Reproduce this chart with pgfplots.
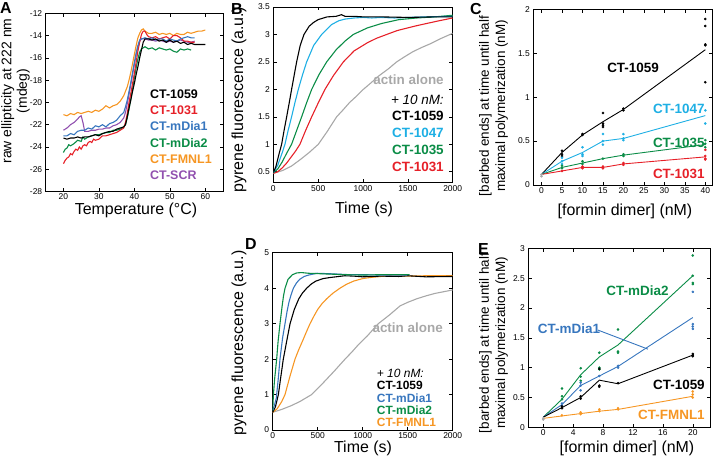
\documentclass[border=0pt]{standalone}
\usepackage{fontspec}
\setmainfont{Liberation Sans}
\usepackage{pgfplots}
\pgfplotsset{compat=1.18}

\definecolor{cred}{RGB}{230,32,40}
\definecolor{cblue}{RGB}{55,118,190}
\definecolor{ccyan}{RGB}{30,175,228}
\definecolor{cgreen}{RGB}{10,140,70}
\definecolor{corange}{RGB}{246,150,35}
\definecolor{cpurple}{RGB}{145,80,175}
\definecolor{cgray}{RGB}{168,168,168}

\pgfplotsset{
  panel/.style={
    scale only axis, anchor=north west,
    axis line style={line width=0.6pt},
    tick style={black, line width=0.5pt},
    major tick length=3.5pt,
    tick label style={font=\fontsize{8.5}{10}\selectfont},
    xticklabel style={yshift=1pt},
    /pgf/number format/assume math mode=true,
    /pgf/number format/1000 sep={},
  },
  curve/.style={line width=1.1pt},
  mean/.style={line width=0.9pt},
  pts/.style={only marks, mark=*, mark size=1.1pt},
}
\newcommand{\lab}{\fontsize{16}{18}\selectfont}
\newcommand{\ylab}{\fontsize{14}{15.5}\selectfont}
\newcommand{\blab}{\fontsize{13.5}{15.5}\selectfont}
\newcommand{\pletter}{\fontsize{16}{18}\selectfont\bfseries}

\begin{document}
\begin{tikzpicture}
\useasboundingbox (0,0) rectangle (713bp,-458bp);

% ---------------- A ----------------
\begin{axis}[panel, at={(45.7bp,-13.3bp)}, width=177.3bp, height=178.2bp,
  xmin=15, xmax=65, ymin=-28, ymax=-12,
  xtick={20,30,40,50,60}, ytick={-28,-26,...,-12}]
\addplot[curve, corange] coordinates {(20,-21.1)(21,-21.2)(22,-21.0)(23,-21.1)(24,-20.9)(25,-21.0)(26,-20.9)(27,-20.8)(28,-20.9)(29,-20.7)(30,-20.8)(31,-20.6)(32,-20.3)(33,-20.5)(34,-20.3)(35,-20.2)(36,-19.9)(37,-19.4)(37.5,-19.0)(38,-18.6)(38.5,-18.0)(39,-17.3)(39.5,-16.5)(40,-15.7)(40.5,-14.9)(41,-14.2)(41.5,-13.8)(42,-13.5)(42.5,-13.4)(43,-13.6)(44,-13.8)(45,-13.8)(46,-13.7)(47,-13.9)(48,-13.8)(49,-13.9)(50,-13.8)(51,-14.0)(52,-13.8)(53,-13.9)(54,-13.9)(55,-13.7)(56,-13.8)(57,-13.7)(58,-13.6)(59,-13.6)(60,-13.5)};
\addplot[curve, cpurple] coordinates {(20,-22.5)(21,-22.3)(22,-22.0)(23,-21.8)(24,-21.5)(24.5,-21.3)(25,-21.2)(25.5,-21.8)(26,-22.6)(27,-22.6)(28,-22.5)(29,-22.5)(30,-22.4)(31,-22.4)(32,-22.3)(33,-22.3)(34,-22.1)(35,-22.0)(36,-21.8)(37,-21.4)(37.5,-20.9)(38,-20.1)(38.5,-19.3)(39,-18.4)(39.5,-17.5)(40,-16.6)(40.5,-15.7)(41,-15.0)(41.5,-14.5)(42,-14.3)(43,-14.3)(44,-14.4)(45,-14.4)(46,-14.5)(47,-14.4)(48,-14.5)(49,-14.6)(50,-14.5)(51,-14.6)(52,-14.5)(53,-14.4)(54,-14.5)(55,-14.6)(56,-14.6)(57,-14.5)};
\addplot[curve, cgreen] coordinates {(20,-24.5)(20.5,-24.2)(21,-24.1)(21.5,-23.8)(22,-23.9)(23,-23.7)(24,-23.4)(25,-23.5)(25.5,-23.1)(26,-23.3)(27,-23.1)(28,-23.0)(29,-22.9)(30,-22.9)(31,-22.8)(32,-22.7)(33,-22.7)(34,-22.5)(35,-22.5)(36,-22.4)(37,-22.2)(37.5,-22.0)(38,-21.4)(38.5,-20.6)(39,-19.7)(39.5,-18.8)(40,-17.8)(40.5,-16.9)(41,-16.1)(41.5,-15.5)(42,-15.2)(43,-15.0)(44,-15.2)(45,-15.1)(46,-15.3)(47,-15.1)(48,-15.2)(49,-15.3)(50,-15.2)(51,-15.4)(52,-15.5)(53,-15.2)(54,-15.3)(55,-15.2)(56,-15.3)};
\addplot[curve, cred] coordinates {(20,-25.5)(20.5,-25.2)(21,-25.0)(21.5,-24.9)(22,-24.6)(22.5,-24.7)(23,-24.4)(23.5,-24.2)(24,-24.3)(24.5,-24.0)(25,-24.2)(25.5,-23.9)(26,-23.8)(26.5,-23.9)(27,-23.6)(27.5,-23.5)(28,-23.6)(28.5,-23.3)(29,-23.4)(30,-23.3)(31,-23.0)(32,-23.0)(33,-22.9)(34,-22.8)(35,-22.7)(36,-22.5)(37,-22.3)(37.5,-21.8)(38,-21.0)(38.5,-20.0)(39,-19.2)(39.5,-18.3)(40,-17.4)(40.5,-16.4)(41,-15.4)(41.5,-14.6)(42,-13.9)(42.5,-13.6)(43,-13.6)(43.5,-13.9)(44,-14.1)(45,-14.2)(46,-14.1)(47,-14.3)(48,-14.2)(49,-14.1)(50,-14.3)(51,-14.0)(52,-14.0)(53,-14.2)(54,-14.5)(55,-14.5)(56,-14.6)(57,-14.6)};
\addplot[curve, cblue] coordinates {(20,-23.0)(21,-23.0)(22,-22.8)(23,-22.9)(24,-22.6)(25,-22.5)(26,-22.5)(27,-22.3)(28,-22.4)(29,-22.1)(30,-22.2)(31,-22.0)(32,-22.2)(33,-21.9)(34,-21.8)(35,-21.6)(36,-21.2)(37,-20.9)(37.5,-20.4)(38,-19.8)(38.5,-19.0)(39,-18.2)(39.5,-17.3)(40,-16.4)(40.5,-15.6)(41,-14.9)(41.5,-14.4)(42,-14.3)(43,-14.2)(44,-14.3)(45,-14.2)(46,-14.4)(47,-14.3)(48,-14.3)(49,-14.5)(50,-14.3)(51,-14.4)(52,-14.5)(53,-14.3)(54,-14.2)(55,-14.1)(56,-14.2)(57,-14.2)};
\addplot[curve, black] coordinates {(20,-23.2)(21,-23.3)(22,-23.2)(23,-23.2)(24,-23.1)(25,-23.2)(26,-23.1)(27,-23.1)(28,-23.0)(29,-22.9)(30,-23.0)(31,-22.8)(32,-22.7)(33,-22.6)(34,-22.6)(35,-22.4)(36,-22.3)(37,-22.2)(37.5,-22.0)(38,-21.3)(38.5,-20.5)(39,-19.8)(39.5,-19.0)(40,-18.3)(40.5,-17.5)(41,-16.8)(41.5,-16.0)(42,-15.3)(42.5,-14.6)(43,-14.3)(44,-14.3)(45,-14.4)(46,-14.3)(47,-14.5)(48,-14.4)(49,-14.6)(50,-14.4)(51,-14.6)(52,-14.5)(53,-14.7)(54,-14.6)(55,-14.8)(56,-14.7)(57,-14.8)(58,-14.8)(59,-14.8)(60,-14.8)};
\begin{scope}[every node/.style={anchor=west, inner sep=0pt, font=\fontsize{12.5}{14}\selectfont\bfseries}]
\node[black]   at (rel axis cs:0.588,0.547) {CT-1059};
\node[cred]    at (rel axis cs:0.588,0.457) {CT-1031};
\node[cblue]   at (rel axis cs:0.588,0.368) {CT-mDia1};
\node[cgreen]  at (rel axis cs:0.588,0.272) {CT-mDia2};
\node[corange] at (rel axis cs:0.588,0.182) {CT-FMNL1};
\node[cpurple] at (rel axis cs:0.588,0.093) {CT-SCR};
\end{scope}
\end{axis}

% ---------------- B ----------------
\begin{axis}[panel, at={(273.3bp,-7bp)}, width=179.4bp, height=175.7bp,
  xmin=0, xmax=2000, ymin=0.3, ymax=3.5,
  xtick={0,500,1000,1500,2000}, ytick={0.5,1,...,3.5}]
\addplot[curve, cgray] coordinates {(0,0.47)(100,0.52)(200,0.6)(300,0.72)(400,0.85)(502,1.0)(600,1.23)(706,1.5)(780,1.63)(850,1.76)(930,1.88)(1004,2.0)(1090,2.12)(1180,2.25)(1280,2.37)(1375,2.5)(1460,2.59)(1550,2.68)(1650,2.76)(1750,2.83)(1860,2.92)(1970,3.0)(2000,3.02)};
\addplot[curve, cred] coordinates {(0,0.47)(50,0.5)(100,0.57)(150,0.66)(200,0.77)(250,0.88)(297,1.0)(360,1.25)(428,1.5)(500,1.75)(576,2.0)(670,2.25)(781,2.5)(900,2.7)(1050,2.85)(1150,2.93)(1264,3.0)(1380,3.07)(1500,3.12)(1600,3.16)(1710,3.2)(1850,3.25)(2000,3.3)};
\addplot[curve, cgreen] coordinates {(0,0.48)(50,0.55)(100,0.68)(150,0.84)(204,1.0)(260,1.25)(316,1.5)(370,1.75)(428,2.0)(510,2.27)(595,2.5)(700,2.72)(800,2.88)(892,3.0)(1050,3.12)(1208,3.2)(1400,3.27)(1600,3.3)(1800,3.32)(2000,3.35)};
\addplot[curve, ccyan] coordinates {(0,0.48)(50,0.62)(100,0.85)(130,1.0)(165,1.25)(204,1.5)(240,1.75)(279,2.0)(325,2.26)(372,2.5)(450,2.8)(539,3.0)(650,3.18)(730,3.25)(800,3.28)(900,3.3)(1000,3.31)(1100,3.3)(1200,3.31)(1350,3.3)(1500,3.31)(1700,3.32)(2000,3.33)};
\addplot[curve, black] coordinates {(0,0.48)(30,0.6)(60,0.8)(93,1.0)(120,1.25)(149,1.5)(177,1.75)(204,2.0)(232,2.25)(260,2.5)(300,2.8)(342,3.0)(400,3.15)(450,3.22)(500,3.27)(600,3.32)(700,3.33)(760,3.36)(800,3.33)(900,3.33)(1000,3.32)(1200,3.32)(1500,3.31)(1800,3.32)(2000,3.32)};
\begin{scope}[every node/.style={anchor=east, inner sep=0pt, font=\blab\bfseries}]
\node[cgray] at (rel axis cs:0.951,0.585) {actin alone};
\node[black, font=\blab\itshape] at (rel axis cs:0.951,0.471) {+ 10 nM:};
\node[black] at (rel axis cs:0.951,0.380) {CT-1059};
\node[ccyan] at (rel axis cs:0.951,0.283) {CT-1047};
\node[cgreen] at (rel axis cs:0.951,0.186) {CT-1035};
\node[cred] at (rel axis cs:0.951,0.089) {CT-1031};
\end{scope}
\end{axis}

% ---------------- C ----------------
\begin{axis}[panel, at={(533.3bp,-9.3bp)}, width=179.4bp, height=175.7bp,
  xmin=-2, xmax=41.8, ymin=0, ymax=2,
  xtick={0,5,...,40}, ytick={0,0.5,...,2}]
\addplot[mean, black] coordinates {(0,0.12)(5,0.37)(10,0.57)(15,0.72)(20,0.86)(40,1.54)};
\addplot[mean, ccyan] coordinates {(0,0.12)(5,0.27)(10,0.37)(15,0.50)(20,0.53)(40,0.79)};
\addplot[mean, cgreen] coordinates {(0,0.12)(5,0.20)(10,0.25)(15,0.30)(20,0.34)(40,0.46)};
\addplot[mean, cred] coordinates {(0,0.12)(5,0.16)(10,0.20)(15,0.20)(20,0.24)(40,0.32)};
\addplot[pts, cgray] coordinates {(0,0.12)(0,0.10)};
\addplot[pts, black] coordinates {(5,0.39)(5,0.35)(5,0.33)(10,0.58)(10,0.57)(15,0.82)(15,0.70)(15,0.68)(15,0.66)(20,0.87)(20,0.85)(40,1.89)(40,1.81)(40,1.60)(40,1.59)(40,1.17)};
\addplot[pts, ccyan] coordinates {(5,0.31)(5,0.27)(5,0.24)(10,0.43)(10,0.35)(10,0.33)(15,0.58)(15,0.50)(15,0.46)(20,0.58)(20,0.53)(20,0.51)(40,0.85)(40,0.70)};
\addplot[pts, cgreen] coordinates {(5,0.22)(5,0.19)(10,0.27)(10,0.24)(15,0.30)(20,0.35)(20,0.33)(40,0.51)(40,0.47)(40,0.43)};
\addplot[pts, cred] coordinates {(5,0.16)(10,0.21)(10,0.19)(15,0.21)(15,0.19)(20,0.25)(20,0.23)(40,0.40)(40,0.33)(40,0.30)(40,0.29)};
\begin{scope}[every node/.style={inner sep=0pt, font=\blab\bfseries}]
\node[black] at (rel axis cs:0.556,0.669) {CT-1059};
\node[ccyan, anchor=east] at (rel axis cs:0.956,0.433) {CT-1047};
\node[cgreen, anchor=east] at (rel axis cs:0.956,0.242) {CT-1035};
\node[cred, anchor=east] at (rel axis cs:0.956,0.063) {CT-1031};
\end{scope}
\end{axis}

% ---------------- D ----------------
\begin{axis}[panel, at={(272.7bp,-252.7bp)}, width=180bp, height=177.3bp,
  xmin=0, xmax=2000, ymin=0, ymax=5,
  xtick={0,500,1000,1500,2000}, ytick={0,1,...,5}]
\addplot[curve, cgray] coordinates {(0,0.5)(100,0.58)(200,0.68)(300,0.8)(433,1.0)(550,1.3)(680,1.65)(804,2.0)(880,2.2)(950,2.4)(1050,2.65)(1110,2.82)(1174,3.0)(1240,3.13)(1300,3.25)(1415,3.5)(1500,3.6)(1600,3.7)(1700,3.78)(1800,3.85)(1900,3.9)(2000,3.95)};
\addplot[curve, corange] coordinates {(0,0.5)(50,0.6)(100,0.8)(137,1.0)(190,1.5)(248,2.0)(290,2.27)(330,2.5)(375,2.77)(415,3.0)(460,3.22)(500,3.4)(550,3.57)(600,3.7)(670,3.86)(748,4.0)(820,4.11)(900,4.2)(1000,4.27)(1081,4.3)(1200,4.33)(1300,4.35)(1500,4.34)(1700,4.35)(2000,4.35)};
\addplot[curve, black] coordinates {(0,0.5)(30,0.65)(63,1.0)(90,1.5)(118,2.0)(155,2.5)(193,3.0)(240,3.4)(290,3.7)(330,3.86)(378,4.0)(430,4.12)(480,4.2)(560,4.27)(637,4.3)(800,4.35)(900,4.34)(1000,4.32)(1200,4.34)(1400,4.33)(1500,4.35)(1700,4.32)(2000,4.33)};
\addplot[curve, cblue] coordinates {(0,0.55)(20,0.7)(40,0.9)(60,1.4)(81,2.0)(110,2.6)(137,3.0)(160,3.35)(180,3.6)(205,3.82)(230,4.0)(265,4.15)(300,4.25)(350,4.33)(400,4.37)(489,4.42)(600,4.41)(700,4.4)(850,4.38)(1000,4.38)(1200,4.37)(1500,4.37)};
\addplot[curve, cgreen] coordinates {(0,0.55)(8,1.0)(20,1.4)(32,1.7)(44,2.0)(60,2.5)(81,3.0)(105,3.5)(120,3.78)(137,4.0)(170,4.25)(220,4.38)(267,4.43)(320,4.44)(400,4.42)(500,4.41)(600,4.4)(800,4.38)(1000,4.37)(1200,4.38)(1400,4.38)(1520,4.38)};
\begin{scope}[every node/.style={anchor=west, inner sep=0pt, font=\fontsize{12}{13}\selectfont\bfseries}]
\node[cgray, anchor=east, font=\blab\bfseries] at (rel axis cs:0.946,0.575) {actin alone};
\node[black, font=\fontsize{12}{13}\selectfont\itshape] at (rel axis cs:0.578,0.318) {+ 10 nM:};
\node[black] at (rel axis cs:0.578,0.249) {CT-1059};
\node[cblue] at (rel axis cs:0.578,0.180) {CT-mDia1};
\node[cgreen] at (rel axis cs:0.578,0.112) {CT-mDia2};
\node[corange] at (rel axis cs:0.578,0.043) {CT-FMNL1};
\end{scope}
\end{axis}

% ---------------- E ----------------
\begin{axis}[panel, at={(528.3bp,-248.3bp)}, width=181.7bp, height=179bp,
  xmin=-2, xmax=22.3, ymin=0, ymax=3,
  xtick={0,4,...,20}, ytick={0,0.5,...,3}]
\addplot[mean, cgreen] coordinates {(0,0.17)(2.5,0.47)(5,0.88)(7.5,1.18)(10,1.38)(20,2.54)};
\addplot[mean, cblue] coordinates {(0,0.17)(2.5,0.38)(5,0.70)(7.5,0.86)(10,1.02)(20,1.84)};
\addplot[mean, black] coordinates {(0,0.17)(2.5,0.33)(5,0.50)(7.5,0.79)(10,0.73)(20,1.21)};
\addplot[mean, corange] coordinates {(0,0.15)(2.5,0.19)(5,0.23)(7.5,0.27)(10,0.30)(20,0.52)};
\addplot[mean, cblue] coordinates {(7.3,1.63)(14,1.31)};
\addplot[pts, cgray] coordinates {(0,0.15)(0,0.13)};
\addplot[pts, cgreen] coordinates {(2.5,0.65)(2.5,0.52)(2.5,0.47)(5,0.99)(5,0.85)(5,0.78)(7.5,1.25)(7.5,1.0)(7.5,0.97)(10,1.64)(10,1.27)(10,1.25)(20,2.88)(20,2.54)(20,2.42)(20,2.40)};
\addplot[pts, cblue] coordinates {(2.5,0.40)(2.5,0.36)(5,0.75)(5,0.70)(5,0.62)(7.5,0.86)(10,1.03)(10,1.0)(20,2.27)(20,1.73)(20,1.69)(20,1.65)};
\addplot[pts, black] coordinates {(2.5,0.35)(2.5,0.32)(5,0.52)(5,0.48)(7.5,0.98)(7.5,0.70)(7.5,0.68)(10,0.74)(20,1.23)(20,1.21)(20,1.19)};
\addplot[pts, corange] coordinates {(2.5,0.20)(5,0.25)(5,0.22)(7.5,0.30)(7.5,0.27)(10,0.32)(10,0.30)(20,0.60)(20,0.55)(20,0.50)};
\begin{scope}[every node/.style={inner sep=0pt, font=\blab\bfseries}]
\node[cgreen] at (rel axis cs:0.601,0.764) {CT-mDia2};
\node[cblue] at (rel axis cs:0.224,0.552) {CT-mDia1};
\node[black, anchor=east] at (rel axis cs:0.972,0.236) {CT-1059};
\node[corange, anchor=east] at (rel axis cs:0.972,0.072) {CT-FMNL1};
\end{scope}
\end{axis}

% ---------------- labels ----------------
\node[anchor=base west, inner sep=0pt, font=\pletter] at (0bp,-13.5bp) {A};
\node[anchor=base west, inner sep=0pt, font=\pletter] at (231bp,-14bp) {B};
\node[anchor=base west, inner sep=0pt, font=\pletter] at (470bp,-14bp) {C};
\node[anchor=base west, inner sep=0pt, font=\pletter] at (245bp,-249bp) {D};
\node[anchor=base west, inner sep=0pt, font=\pletter] at (478bp,-254bp) {E};

\node[anchor=base, inner sep=0pt, font=\lab] at (136bp,-214bp) {Temperature (°C)};
\node[anchor=base, inner sep=0pt, font=\lab] at (364bp,-213bp) {Time (s)};
\node[anchor=base, inner sep=0pt, font=\lab] at (625bp,-215bp) {[formin dimer] (nM)};
\node[anchor=base, inner sep=0pt, font=\lab] at (363bp,-452.5bp) {Time (s)};
\node[anchor=base, inner sep=0pt, font=\lab] at (627bp,-452bp) {[formin dimer] (nM)};

\node[rotate=90, align=center, inner sep=0pt, font=\ylab] at (15.5bp,-91bp) {raw ellipticity at 222 nm\\(mdeg)};
\node[rotate=90, inner sep=0pt, font=\lab] at (239bp,-100bp) {pyrene fluorescence (a.u.)};
\node[rotate=90, inner sep=0pt, font=\lab] at (239bp,-343bp) {pyrene fluorescence (a.u.)};
\node[rotate=90, align=center, inner sep=0pt, font=\fontsize{13.5}{16.5}\selectfont] at (493.5bp,-106bp) {[barbed ends] at time until half\\maximal polymerization (nM)};
\node[rotate=90, align=center, inner sep=0pt, font=\fontsize{13.5}{16.5}\selectfont] at (493.5bp,-343bp) {[barbed ends] at time until half\\maximal polymerization (nM)};
\end{tikzpicture}
\end{document}
